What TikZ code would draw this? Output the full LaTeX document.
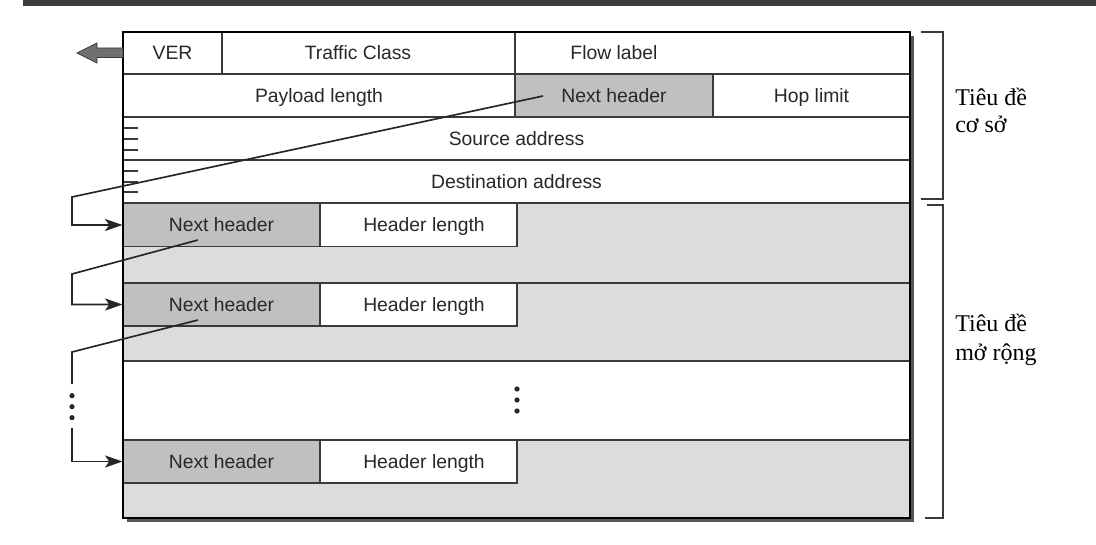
\documentclass[tikz,border=0pt]{standalone}
\usepackage{fontspec}
\setmainfont{Liberation Serif}
\setsansfont{Liberation Sans}
\usetikzlibrary{arrows.meta,calc}

\definecolor{nhgray}{RGB}{192,192,192}
\definecolor{extgray}{RGB}{220,220,220}
\definecolor{linegray}{RGB}{58,58,58}
\definecolor{textgray}{RGB}{40,40,40}
\definecolor{shadowgray}{RGB}{85,85,85}
\definecolor{bargray}{RGB}{60,60,60}
\definecolor{arrowgray}{RGB}{112,112,112}

\begin{document}
\begin{tikzpicture}[x=0.75pt,y=-0.75pt,
    cellfont/.style={font=\sffamily\fontsize{14.5}{16}\selectfont,text=textgray,
      text height=10.4pt,text depth=0pt},
    cell/.style 2 args={draw=linegray,line width=0.8pt,inner sep=0pt,
      minimum width={(#1)*0.75pt},minimum height={(#2)*0.75pt},cellfont},
    lbl/.style={anchor=base west,inner sep=0pt,font=\fontsize{18}{20}\selectfont},
    conn/.style={draw=black!85,line width=1.25pt},
    pointer/.style={conn,-{Stealth[length=13pt,width=9pt,inset=3pt]}}]
        \useasboundingbox (0,0) rectangle (1096,545);
        % top bar and shadow
        \fill[bargray] (23,0) rectangle (1096,6);
        \fill[shadowgray] (127,36) rectangle (914,522);
        \fill[white] (123,32) rectangle (910,518);

        % base header
        \node[cell={99}{42}] (ver) at (172.5,53) {VER};
        \node[cell={293}{42}] (tc) at (368.5,53) {};
        \node[cellfont] (tctxt) at (358,53) {Traffic Class};
        \node[cell={395}{42}] (flow) at (712.5,53) {};
        \node[cellfont] (flowtxt) at (614,53) {Flow label};
        \node[cell={392}{43}] (pay) at (319,95.5) {Payload length};
        \node[cell={198}{43},fill=nhgray] (nh0) at (614,95.5) {Next header};
        \node[cell={197}{43}] (hop) at (811.5,95.5) {Hop limit};
        \node[cell={787}{43}] (src) at (516.5,138.5) {Source address};
        \node[cell={787}{43}] (dst) at (516.5,181.5) {Destination address};
        \foreach \y in {128,139,150,171,182,192} {
          \draw[linegray,line width=0.8pt] (123,\y) -- (138,\y);
        }

        % extension headers
        \node[cell={787}{80},fill=extgray] (ext1) at (516.5,243) {};
        \node[cell={787}{78},fill=extgray] (ext2) at (516.5,322) {};
        \node[cell={787}{79}] (gap) at (516.5,400.5) {};
        \node[cell={787}{78},fill=extgray] (ext3) at (516.5,479) {};
        \foreach \n/\y in {1/225, 2/304.5, 3/461.5} {
          \node[cell={197}{43},fill=nhgray] (nh\n) at (221.5,\y) {Next header};
          \node[cell={197}{43},fill=white] (hl\n) at (418.5,\y) {};
          \node[cellfont] (hltxt\n) at (424,\y) {Header length};
        }
        \foreach \y in {389,400,411} {
          \fill[black!85] (517,\y) circle (2.6);
        }

        \draw[black,line width=1.5pt] (123,32) rectangle (910,518);

        % chain of next header pointers
        \coordinate (b0) at (72,197);
        \coordinate (b1) at (72,274);
        \coordinate (b2) at (72,352);
        \coordinate (b2e) at (72,384);
        \coordinate (b3) at (72,428);
        \draw[pointer] ($(nh0)+(-71,0.5)$) -- (b0) |- (nh1.west);
        \draw[pointer] ($(nh1)+(-23.5,15)$) -- (b1) |- (nh2.west);
        \draw[conn] ($(nh2)+(-23.5,15.5)$) -- (b2) -- (b2e);
        \foreach \y in {395.7,406.7,417.7} {
          \fill[black!85] (72,\y) circle (2.6);
        }
        \draw[pointer] (b3) |- (nh3.west);

        % block arrow at the left
        \filldraw[fill=arrowgray,draw=linegray,line width=0.6pt]
          (123,48) -- (97,48) -- (97,43) -- (77,53) -- (97,63) -- (97,57.5) -- (123,57.5) -- cycle;

        % braces and labels
        \draw[linegray,line width=1pt] (921,32) -- (943,32) -- (943,199) -- (921,199);
        \draw[linegray,line width=1pt] (927,205) -- (943,205) -- (943,518) -- (925,518);
        \node[lbl] (base1) at (955,106) {Tiêu đề};
        \node[lbl] (base2) at (955,133) {cơ sở};
        \node[lbl] (ext1a) at (955,332) {Tiêu đề};
        \node[lbl] (ext1b) at (955,360) {mở rộng};
      \end{tikzpicture}
\end{document}
